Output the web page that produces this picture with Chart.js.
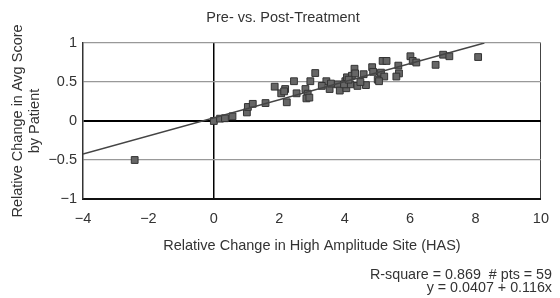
<!DOCTYPE html>
<html>
<head>
<meta charset="utf-8">
<script src="https://cdn.jsdelivr.net/npm/chart.js@4"></script>
<style>
  html, body { margin: 0; padding: 0; background: #fff; }
  #wrap { position: relative; width: 560px; height: 298px; font-family: "Liberation Sans", Arial, sans-serif; color: #333; }
  canvas { position: absolute; left: 0; top: 0; }
  .t { position: absolute; white-space: nowrap; font-size: 14.5px; }
  #title { left: 0; width: 566px; top: 9px; line-height: 17px; text-align: center; }
  #stats { right: 8px; top: 267.5px; line-height: 13.5px; font-size: 14.3px; text-align: right; }
</style>
</head>
<body>
<div id="wrap">
  <canvas id="c" width="560" height="298"></canvas>
  <div class="t" id="title">Pre- vs. Post-Treatment</div>
  <div class="t" id="stats">R-square = 0.869&nbsp;&nbsp;# pts = 59<br>y = 0.0407 + 0.116x</div>
</div>
<script>
// Data
const hasChange = [-2.42, 0.00, 0.19, 0.34, 0.57, 1.01, 1.04, 1.19, 1.58, 1.86,
  2.06, 2.18, 2.23, 2.45, 2.53, 2.80, 2.87, 2.83, 2.95, 3.10,
  3.44, 3.54, 3.77, 3.85, 4.02, 4.07, 4.05, 4.17, 4.22, 4.30,
  4.32, 4.39, 4.65, 4.84, 4.87, 5.01, 5.11, 5.21, 5.16, 5.28,
  5.64, 5.66, 5.58, 6.01, 6.08, 6.19, 6.78, 7.01, 7.20, 8.08,
  3.30, 3.98, 4.12, 4.48, 2.92, 3.58, 4.58, 2.15, 5.05];
const scoreChange = [-0.50, 0.00, 0.03, 0.035, 0.06, 0.11, 0.18, 0.22, 0.23, 0.44,
  0.355, 0.41, 0.24, 0.51, 0.355, 0.41, 0.35, 0.29, 0.51, 0.615,
  0.51, 0.41, 0.47, 0.39, 0.51, 0.56, 0.42, 0.47, 0.58, 0.67,
  0.61, 0.45, 0.46, 0.69, 0.63, 0.53, 0.62, 0.57, 0.77, 0.77,
  0.71, 0.61, 0.57, 0.83, 0.77, 0.75, 0.72, 0.85, 0.83, 0.82,
  0.45, 0.47, 0.53, 0.50, 0.30, 0.48, 0.60, 0.38, 0.51];
const fitIntercept = 0.0407;
const fitSlope = 0.116;
const fitX = [-4, 8.27];
const xTicks = [-4, -2, 0, 2, 4, 6, 8, 10];
const yTicks = [-1, -0.5, 0, 0.5, 1];

const points = hasChange.map((x, i) => ({ x: x, y: scoreChange[i] }));
const fitLine = fitX.map(x => ({ x: x, y: fitIntercept + fitSlope * x }));
const fmt = v => (v < 0 ? '\u2212' + Math.abs(v) : String(v));
const F = { family: 'Liberation Sans', size: 14.5, lineHeight: 1.2 };

new Chart(document.getElementById('c'), {
  type: 'scatter',
  data: {
    datasets: [
      {
        label: 'Patients',
        data: points,
        pointStyle: 'rect',
        pointRadius: 4.8,
        pointHoverRadius: 4.8,
        backgroundColor: '#666666',
        borderColor: '#333333',
        borderWidth: 1,
        order: 2
      },
      {
        label: 'Fit',
        type: 'line',
        data: fitLine,
        borderColor: '#444444',
        borderWidth: 1.5,
        pointRadius: 0,
        fill: false,
        order: 1
      }
    ]
  },
  options: {
    responsive: false,
    animation: false,
    devicePixelRatio: 1,
    layout: { padding: { top: 43, right: 8, left: 0, bottom: 39 } },
    plugins: { legend: { display: false }, tooltip: { enabled: false }, title: { display: false } },
    scales: {
      x: {
        type: 'linear',
        min: -4, max: 10,
        afterBuildTicks: s => { s.ticks = xTicks.map(v => ({ value: v })); },
        afterFit: s => { s.height = 60; },
        ticks: { padding: 11, color: '#333', font: F, callback: v => fmt(v) },
        grid: {
          drawTicks: false,
          color: c => c.tick && c.tick.value === 0 ? '#000' : (c.tick && c.tick.value === 10 ? '#444' : 'rgba(0,0,0,0)'),
          lineWidth: c => c.tick && c.tick.value === 0 ? 1.5 : 1
        },
        border: { color: '#111', width: 2 },
        title: { display: true, text: 'Relative Change in High Amplitude Site (HAS)', color: '#333', font: F, padding: { top: 0, bottom: 4.3 } }
      },
      y: {
        type: 'linear',
        min: -1, max: 1,
        afterBuildTicks: s => { s.ticks = yTicks.map(v => ({ value: v })); },
        afterFit: s => { s.width = 83; },
        ticks: { padding: 6, color: '#333', font: F, callback: v => fmt(v) },
        grid: {
          drawTicks: false,
          color: c => c.tick && c.tick.value === 0 ? '#000' : '#999',
          lineWidth: c => c.tick && c.tick.value === 0 ? 2 : 1.2
        },
        border: { color: '#333', width: 1.5 },
        title: { display: true, text: ['Relative Change in Avg Score', 'by Patient'], color: '#333', font: F, padding: { top: 9, bottom: 0 } }
      }
    }
  }
});
</script>
</body>
</html>
